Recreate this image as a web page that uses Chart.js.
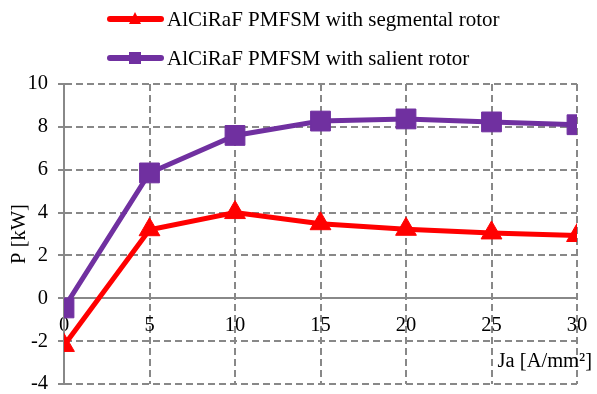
<!DOCTYPE html>
<html>
<head>
<meta charset="utf-8">
<script src="https://cdn.jsdelivr.net/npm/chart.js@4"></script>
<style>
  html, body { margin: 0; padding: 0; background: #fff; overflow: hidden; }
  canvas { display: block; }
</style>
</head>
<body>
<canvas id="myChart" width="597" height="394"></canvas>
<script>
  // Ja [A/mm2] vs P [kW]
  const currentDensity = [0, 5, 10, 15, 20, 25, 30];
  const segmentalRotor = [-2.2, 3.2, 4.0, 3.48, 3.22, 3.05, 2.93];
  const salientRotor = [-0.45, 5.85, 7.6, 8.27, 8.37, 8.23, 8.1];
  const seriesNames = ['AlCiRaF PMFSM with segmental rotor', 'AlCiRaF PMFSM with salient rotor'];
  const xTicks = [0, 5, 10, 15, 20, 25, 30];
  const yTicks = [-4, -2, 0, 2, 4, 6, 8, 10];

  const serif = "'Liberation Serif', 'Times New Roman', serif";
  const fontSize = 20.5;
  const legendSize = 21;
  const gridGrey = '#888888';

  const toPoints = (vals) => vals.map((v, i) => ({ x: currentDensity[i], y: v }));

  // legend drawn as line + marker, like the office chart
  const lineLegend = {
    id: 'lineLegend',
    afterDraw(chart) {
      const ctx = chart.ctx;
      chart.data.datasets.forEach((ds, i) => {
        const y = 19 + i * 39;
        ctx.save();
        ctx.strokeStyle = ds.borderColor;
        ctx.lineWidth = 6;
        ctx.lineCap = 'round';
        ctx.beginPath();
        ctx.moveTo(110, y);
        ctx.lineTo(161, y);
        ctx.stroke();
        ctx.fillStyle = ds.borderColor;
        ctx.beginPath();
        if (ds.pointStyle === 'triangle') {
          ctx.moveTo(135, y - 7);
          ctx.lineTo(141, y + 5);
          ctx.lineTo(129, y + 5);
        } else {
          ctx.rect(129, y - 6, 12, 12);
        }
        ctx.closePath();
        ctx.fill();
        ctx.fillStyle = '#000';
        ctx.font = legendSize + 'px ' + serif;
        ctx.textBaseline = 'middle';
        ctx.fillText(ds.label, 167, y + 1);
        ctx.restore();
      });

      // x axis title sits inside the plot, bottom right
      const area = chart.chartArea;
      ctx.save();
      ctx.fillStyle = '#000';
      ctx.font = fontSize + 'px ' + serif;
      ctx.textAlign = 'right';
      ctx.textBaseline = 'middle';
      ctx.fillText('Ja [A/mm²]', area.right + 15, area.bottom - 22);
      ctx.restore();
    }
  };

  const ctx = document.getElementById('myChart');

  new Chart(ctx, {
    type: 'line',
    data: {
      datasets: [{
        label: seriesNames[0],
        data: toPoints(segmentalRotor),
        borderColor: '#ff0000',
        backgroundColor: '#ff0000',
        borderWidth: 5,
        pointStyle: 'triangle',
        pointRadius: 12,
        pointBorderWidth: 1,
        tension: 0
      }, {
        label: seriesNames[1],
        data: toPoints(salientRotor),
        borderColor: '#7030a0',
        backgroundColor: '#7030a0',
        borderWidth: 5,
        pointStyle: 'rect',
        pointRadius: 14,
        pointBorderWidth: 1,
        tension: 0
      }]
    },
    options: {
      responsive: false,
      animation: false,
      layout: { autoPadding: false, padding: { top: 84, right: 20, bottom: 10, left: 0 } },
      plugins: {
        legend: { display: false },
        tooltip: { enabled: false }
      },
      scales: {
        x: {
          type: 'linear',
          position: { y: 0 },
          min: 0,
          max: 30,
          afterBuildTicks: (scale) => { scale.ticks = xTicks.map(v => ({ value: v })); },
          afterFit: (scale) => { scale.paddingLeft = 0; scale.paddingRight = 0; },
          grid: { color: gridGrey, lineWidth: 2, drawTicks: false },
          border: { color: gridGrey, width: 2, dash: [7, 4] },
          ticks: {
            color: '#000',
            padding: 15,
            maxRotation: 0,
            font: { family: serif, size: fontSize }
          }
        },
        y: {
          min: -4,
          max: 10,
          afterBuildTicks: (scale) => { scale.ticks = yTicks.map(v => ({ value: v })); },
          afterFit: (scale) => {
            scale.width = 64;
            scale.paddingTop = 0;
            scale.paddingBottom = 0;
          },
          grid: { color: gridGrey, lineWidth: 2, tickLength: 6, tickColor: gridGrey },
          border: { color: gridGrey, width: 2, dash: [7, 4] },
          ticks: {
            color: '#000',
            padding: 10,
            font: { family: serif, size: fontSize }
          },
          title: {
            display: true,
            text: 'P [kW]',
            color: '#000',
            padding: { top: 7, bottom: 0 },
            font: { family: serif, size: fontSize }
          }
        }
      }
    },
    plugins: [lineLegend]
  });
</script>
</body>
</html>
